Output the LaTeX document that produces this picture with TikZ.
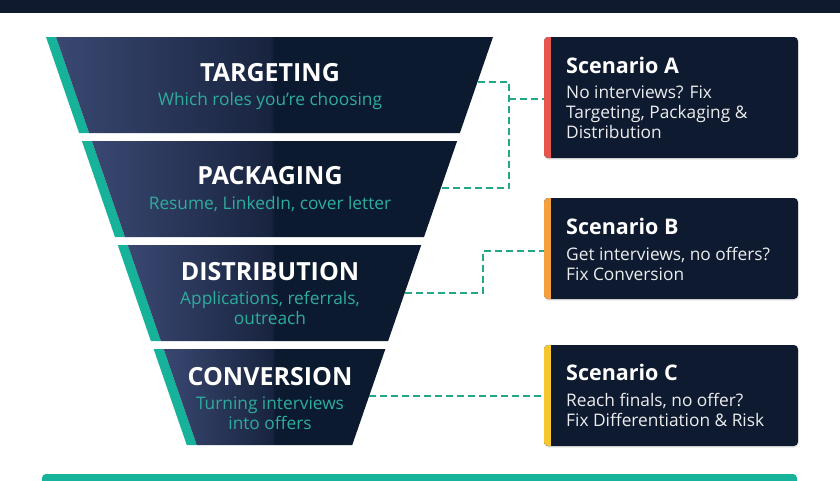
\documentclass[tikz,border=0pt]{standalone}
\usepackage{fontspec}
\setmainfont{Open Sans}
\usetikzlibrary{shadows}

\definecolor{topnavy}{HTML}{0F1A2E}
\definecolor{navyL}{HTML}{3A4872}
\definecolor{navyM}{HTML}{18243F}
\definecolor{navyD}{HTML}{0C1A2F}
\definecolor{boxnavy}{HTML}{0E1A2F}
\definecolor{stripeteal}{HTML}{16B29A}
\definecolor{linkteal}{HTML}{22A886}
\definecolor{subteal}{HTML}{2EAD9C}
\definecolor{scenred}{HTML}{E8544E}
\definecolor{scenorange}{HTML}{F4A03C}
\definecolor{scenyellow}{HTML}{F6C72C}

\pgfdeclarehorizontalshading{funnelshade}{100bp}{color(0bp)=(navyL); color(25bp)=(navyL); color(49.5bp)=(navyM); color(50bp)=(navyD); color(100bp)=(navyD)}

\begin{document}
\begin{tikzpicture}[x=1pt, y=-1pt,
    link/.style={draw=linkteal, line width=2.5pt, dash pattern=on 7pt off 4pt},
    stagetitle/.style={text=white, font=\fontsize{25}{30}\selectfont\bfseries},
    stagesub/.style={text=subteal, font=\fontsize{17.3}{20}\selectfont, align=center},
    scenbox/.style={fill=boxnavy, rounded corners=4pt, minimum width=254pt, inner sep=0pt,
        drop shadow={opacity=0.18, shadow xshift=0.5pt, shadow yshift=-1.5pt},
        path picture={\fill[#1, sharp corners] (path picture bounding box.north west) rectangle ([xshift=7pt]path picture bounding box.south west);}},
    scentitle/.style={text=white, font=\fontsize{21.5}{26}\selectfont\bfseries, anchor=base west, inner sep=0pt},
    scentext/.style={text=white!92!boxnavy, font=\fontsize{17.3}{20}\selectfont, align=left, anchor=north west, inner sep=0pt}]

    % Page and bars
    \clip (0,0) rectangle (840,480);
    \fill[white] (0,0) rectangle (840,480);
    \fill[topnavy] (0,0) rectangle (840,13);
    \fill[stripeteal, rounded corners=4pt] (42,474) rectangle (797,495);

    % Funnel stages
    \foreach \ytop in {37,141,245,349} {
        \pgfmathsetmacro{\ybot}{\ytop+96}
        \pgfmathsetmacro{\xlt}{46+0.345*(\ytop-37)}
        \pgfmathsetmacro{\xlb}{46+0.345*(\ybot-37)}
        \pgfmathsetmacro{\xrt}{493-0.345*(\ytop-37)}
        \pgfmathsetmacro{\xrb}{493-0.345*(\ybot-37)}
        \fill[stripeteal] (\xlt,\ytop) -- (\xlt+10,\ytop) -- (\xlb+10,\ybot) -- (\xlb,\ybot) -- cycle;
        \shade[shading=funnelshade] (\xlt+10,\ytop) -- (\xrt,\ytop) -- (\xrb,\ybot) -- (\xlb+10,\ybot) -- cycle;
    }

    % Stage labels
    \node[stagetitle] (tgT) at (270,73) {TARGETING};
    \node[stagesub] (tgS) at (270,101) {Which roles you're choosing};
    \node[stagetitle] (pkT) at (270,176) {PACKAGING};
    \node[stagesub] (pkS) at (270,204) {Resume, LinkedIn, cover letter};
    \node[stagetitle] (diT) at (270,272) {DISTRIBUTION};
    \node[stagesub] (diS) at (270,308) {Applications, referrals,\\outreach};
    \node[stagetitle] (cvT) at (270,377) {CONVERSION};
    \node[stagesub] (cvS) at (270,413) {Turning interviews\\into offers};

    % Stage edge points
    \coordinate (tgR) at (477.5,82);
    \coordinate (pkR) at (441,188);
    \coordinate (diR) at (405,293);
    \coordinate (cvR) at (369,396);

    % Scenario boxes
    \node[scenbox=scenred, minimum height=121pt] (scenA) at (671,97.5) {};
    \node[scentitle] (scenAt) at (566,73.5) {Scenario A};
    \node[scentext] (scenAb) at (566,85.5) {No interviews? Fix\\Targeting, Packaging \&\\Distribution};

    \node[scenbox=scenorange, minimum height=101pt] (scenB) at (671,248.5) {};
    \node[scentitle] (scenBt) at (566,234.5) {Scenario B};
    \node[scentext] (scenBb) at (566,247.5) {Get interviews, no offers?\\Fix Conversion};

    \node[scenbox=scenyellow, minimum height=101pt] (scenC) at (671,395.5) {};
    \node[scentitle] (scenCt) at (566,380.5) {Scenario C};
    \node[scentext] (scenCb) at (566,393.5) {Reach finals, no offer?\\Fix Differentiation \& Risk};

    % Dashed links
    \coordinate (busA) at (509,99);
    \coordinate (busB) at (483,251);
    \draw[link] (tgR) -| (busA |- pkR) -- (pkR);
    \draw[link] (busA) -- (scenA.west |- busA);
    \draw[link] (diR) -| (busB) -- (scenB.west |- busB);
    \draw[link] (cvR) -- (scenC.west |- cvR);
\end{tikzpicture}
\end{document}
